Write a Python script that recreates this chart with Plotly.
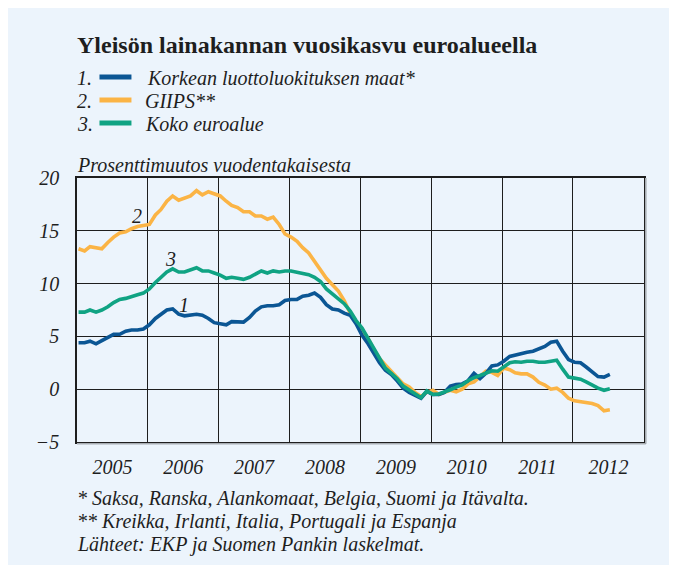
import plotly.graph_objects as go

# ---- data (monthly, Jan 2005 – Jul 2012) ----
months = [f"{2005 + i // 12}-{i % 12 + 1:02d}-09" for i in range(91)]

korkea = [  # 1. Korkean luottoluokituksen maat*
    4.4, 4.4, 4.55, 4.3, 4.6, 4.9, 5.2, 5.2, 5.5, 5.6, 5.6, 5.7,
    6.1, 6.7, 7.1, 7.5, 7.6, 7.1, 6.95, 7.0, 7.1, 7.0, 6.7, 6.3,
    6.2, 6.1, 6.4, 6.4, 6.35, 6.8, 7.4, 7.8, 7.9, 7.9, 8.0, 8.4,
    8.5, 8.5, 8.8, 8.9, 9.1, 8.7, 8.0, 7.6, 7.5, 7.2, 7.0, 6.2,
    5.1, 4.3, 3.4, 2.5, 1.8, 1.4, 0.8, 0.1, -0.3, -0.6, -0.85, -0.2,
    -0.5, -0.5, -0.3, 0.3, 0.45, 0.5, 0.8, 1.5, 1.0, 1.5, 2.2, 2.3,
    2.65, 3.1, 3.25, 3.35, 3.5, 3.6, 3.8, 4.05, 4.45, 4.55, 3.6, 2.8,
    2.55, 2.5, 2.1, 1.65, 1.2, 1.15, 1.4,
]
giips = [  # 2. GIIPS**
    13.3, 13.1, 13.5, 13.4, 13.3, 13.9, 14.4, 14.8, 14.9, 15.2, 15.4, 15.5,
    15.6, 16.5, 17.0, 17.8, 18.3, 17.9, 18.1, 18.3, 18.8, 18.4, 18.7, 18.5,
    18.3, 17.8, 17.4, 17.2, 16.8, 16.8, 16.4, 16.4, 16.1, 16.3, 15.6, 14.7,
    14.4, 14.0, 13.4, 12.9, 12.1, 11.2, 10.5, 9.9, 9.3, 8.4, 7.2, 6.4,
    5.6, 4.8, 3.8, 2.9, 2.3, 1.7, 1.2, 0.5, 0.2, -0.3, -0.7, -0.3,
    -0.1, -0.5, -0.3, -0.1, -0.25, 0.0, 0.5, 0.7, 1.2, 1.7, 1.6, 1.3,
    2.0, 1.85, 1.55, 1.45, 1.45, 1.15, 0.65, 0.4, 0.0, 0.1, -0.3, -0.85,
    -1.1, -1.2, -1.3, -1.35, -1.55, -2.05, -1.95,
]
koko = [  # 3. Koko euroalue
    7.3, 7.3, 7.5, 7.3, 7.5, 7.8, 8.2, 8.5, 8.6, 8.8, 8.95, 9.1,
    9.5, 10.1, 10.6, 11.1, 11.4, 11.1, 11.1, 11.3, 11.5, 11.2, 11.2, 11.0,
    10.8, 10.5, 10.6, 10.5, 10.4, 10.6, 10.9, 11.2, 11.0, 11.2, 11.1, 11.2,
    11.2, 11.1, 11.0, 10.85, 10.6, 10.2, 9.5, 9.0, 8.6, 8.1, 7.4, 6.5,
    5.8, 4.8, 3.9, 2.8, 2.0, 1.5, 1.0, 0.3, -0.1, -0.5, -0.8, -0.15,
    -0.5, -0.45, -0.3, -0.05, 0.2, 0.4, 0.8, 1.1, 1.3, 1.5, 1.75, 1.7,
    2.15, 2.5, 2.6, 2.55, 2.65, 2.65, 2.55, 2.55, 2.65, 2.75, 1.9, 1.15,
    1.05, 0.95, 0.7, 0.4, 0.1, -0.1, 0.05,
]

series_names = ["Korkean luottoluokituksen maat*", "GIIPS**", "Koko euroalue"]
colors = ["#0b5694", "#fbb445", "#10a383"]
yticks = [-5, 0, 5, 10, 15, 20]

title = "Yleisön lainakannan vuosikasvu euroalueella"
unit = "Prosenttimuutos vuodentakaisesta"
notes = [
    "* Saksa, Ranska, Alankomaat, Belgia, Suomi ja Itävalta.",
    "** Kreikka, Irlanti, Italia, Portugali ja Espanja",
    "Lähteet: EKP ja Suomen Pankin laskelmat.",
]

# ---- layout geometry (page has an 8px body margin) ----
OFF = 8
W, H = 677 - OFF, 565 - OFF
L, R, T, B = 68.5, 33, 170, 123
PW, PH = W - L - R, H - T - B
BG = "#ecf4fc"
INK = "#1e1e1e"
FONT = "Liberation Serif"


def px2x(px):  # px given in window coordinates
    return (px - OFF - L) / PW


def py2y(py):
    return (H - B - (py - OFF)) / PH


fig = go.Figure()
for vals, idx in [(giips, 1), (korkea, 0), (koko, 2)]:
    fig.add_trace(go.Scatter(
        x=months, y=vals, mode="lines", name=series_names[idx],
        line=dict(color=colors[idx], width=3.6), showlegend=False,
        hoverinfo="skip",
    ))

ann = []
ann.append(dict(text=f"<b>{title}</b>", x=px2x(74), y=py2y(45), xref="paper", yref="paper",
                xanchor="left", yanchor="middle", showarrow=False,
                font=dict(family=FONT, size=24, color=INK)))
rows_y = [78, 101, 124]
text_x = [145, 143, 143]
shapes = []
ital = dict(family=FONT, size=20, color=INK, style="italic")
for i in range(3):
    ann.append(dict(text=f"{i + 1}.", x=px2x(74), y=py2y(rows_y[i]), xref="paper", yref="paper",
                    xanchor="left", yanchor="middle", showarrow=False, font=ital))
    ann.append(dict(text=series_names[i], x=px2x(text_x[i]), y=py2y(rows_y[i]), xref="paper",
                    yref="paper", xanchor="left", yanchor="middle", showarrow=False, font=ital))
    shapes.append(dict(type="line", xref="paper", yref="paper",
                       x0=px2x(99), x1=px2x(131), y0=py2y(rows_y[i] - 1), y1=py2y(rows_y[i] - 1),
                       line=dict(color=colors[i], width=5)))
ann.append(dict(text=unit, x=px2x(74), y=py2y(165), xref="paper", yref="paper",
                xanchor="left", yanchor="middle", showarrow=False, font=ital))
for ny, txt in zip([498, 521, 544], notes):
    ann.append(dict(text=txt, x=px2x(74), y=py2y(ny), xref="paper", yref="paper",
                    xanchor="left", yanchor="middle", showarrow=False, font=ital))

# series number labels (data coordinates)
label_pos = [("2", "2005-11-06", 16.4), ("3", "2006-04-27", 12.3), ("1", "2006-07-08", 8.0)]
for txt, lx, ly in label_pos:
    ann.append(dict(text=txt, x=lx, y=ly, xref="x", yref="y", showarrow=False,
                    xanchor="center", yanchor="middle", font=ital))

# soft shadow at right and bottom of the plot frame
sx = px2x(644 + 1.8)
sy = py2y(442 + 1.8)
shapes.append(dict(type="line", xref="paper", yref="paper", x0=sx, x1=sx, y0=sy, y1=1,
                   line=dict(color="#a8adb3", width=1.6)))
shapes.append(dict(type="line", xref="paper", yref="paper", x0=0, x1=sx, y0=sy, y1=sy,
                   line=dict(color="#a8adb3", width=1.6)))

fig.update_layout(
    width=W, height=H,
    margin=dict(l=L, r=R, t=T, b=B, pad=0),
    paper_bgcolor=BG, plot_bgcolor=BG,
    annotations=ann, shapes=shapes,
    showlegend=False,
)
tickf = dict(family=FONT, size=20, color=INK, style="italic")
fig.update_xaxes(
    type="date", range=["2005-01-01", "2013-01-01"],
    dtick="M12", tick0="2005-01-01", tickformat="%Y", ticklabelmode="period",
    showgrid=True, gridcolor=INK, gridwidth=1,
    showline=True, linecolor=INK, linewidth=1.5, mirror=True,
    ticks="", ticklabelstandoff=6, tickfont=tickf, fixedrange=True,
)
fig.update_yaxes(
    range=[-5, 20], tickvals=yticks,
    showgrid=True, gridcolor=INK, gridwidth=1, zeroline=False,
    showline=True, linecolor=INK, linewidth=1.5, mirror=True,
    ticks="", ticklabelstandoff=12, tickfont=tickf, fixedrange=True,
)

fig.write_html("out.html")
